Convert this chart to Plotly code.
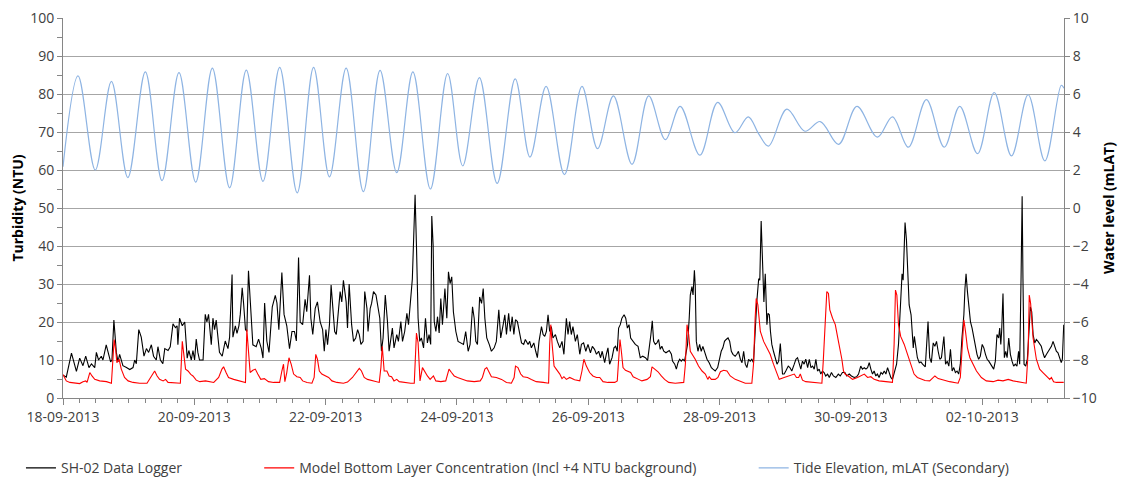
import pandas as pd
import plotly.graph_objects as go

START = pd.Timestamp("2013-09-18 00:00")

# ---- SH-02 Data Logger (hours since 18-09-2013 00:00, NTU) ----
logger_hours = [
    0, 1.2, 3.1, 4.9, 6.1, 7.3, 8.3, 9.5, 10.4, 11.6, 12.2, 13.0, 14.0, 14.6, 15.8, 17.4, 17.9, 18.6, 19.5, 20.1,
    20.7, 21.9, 23.2, 24.4, 25.6, 26.2, 26.8, 27.7, 28.6, 29.6, 30.5, 31.3, 32.3, 33.1, 34.1, 34.7, 35.6, 36.5, 37.2, 38.4,
    39.2, 40.2, 41.1, 41.7, 42.0, 42.6, 43.6, 44.5, 45.4, 46.0, 46.9, 47.5, 48.1, 48.7, 49.3, 49.9, 51.2, 52.0, 52.6, 53.2,
    54.2, 54.8, 55.4, 56.0, 57.2, 58.2, 59.3, 60.3, 60.9, 61.8, 62.1, 63.0, 63.6, 64.3, 64.8, 65.5, 66.0, 66.7, 67.2, 67.8,
    68.5, 69.4, 70.6, 71.5, 72.5, 73.1, 73.7, 74.5, 75.3, 75.8, 76.5, 77.6, 78.2, 78.9, 80.0, 80.8, 81.4, 81.8, 82.8, 83.7,
    84.6, 85.3, 86.1, 86.7, 87.6, 88.5, 89.1, 90.1, 90.6, 91.3, 92.2, 93.0, 94.0, 94.9, 95.5, 96.1, 96.7, 97.4, 98.0, 98.6,
    99.3, 99.9, 100.7, 101.3, 101.9, 102.5, 103.5, 104.0, 104.6, 105.5, 106.2, 107.0, 107.7, 108.3, 108.9, 109.7, 110.3, 111.1, 111.5, 112.3,
    112.8, 113.5, 114.4, 115.2, 115.8, 116.4, 117.0, 117.8, 118.6, 119.2, 119.8, 120.4, 121.0, 122.0, 122.6, 123.5, 124.1, 124.9, 125.7, 126.3,
    127.1, 127.7, 128.4, 128.7, 129.2, 129.8, 130.4, 131.0, 131.8, 132.5, 133.2, 133.8, 134.4, 134.8, 135.3, 135.7, 136.3, 136.9, 137.5, 138.1,
    138.7, 139.6, 140.3, 140.9, 141.5, 142.1, 142.7, 143.6, 144.4, 145.4, 146.4, 147.2, 148.1, 148.8, 149.7, 150.3, 150.9, 151.5, 152.3, 153.0,
    153.6, 154.2, 154.9, 155.8, 156.6, 157.6, 158.4, 159.3, 160.0, 160.9, 161.5, 162.1, 162.9, 163.5, 164.2, 164.8, 165.4, 166.1, 167.0, 167.6,
    168.4, 169.0, 170.0, 170.6, 171.2, 172.1, 172.8, 173.4, 174.0, 174.9, 175.5, 176.1, 176.7, 177.3, 177.9, 178.5, 179.1, 180.0, 180.7, 181.6,
    182.4, 183.1, 184.0, 184.6, 185.2, 185.8, 186.4, 187.3, 188.0, 188.9, 189.5, 190.3, 191.1, 191.9, 192.8, 193.5, 194.3, 195.0, 195.8, 196.5,
    197.1, 198.0, 198.6, 199.2, 199.8, 200.7, 201.4, 202.0, 202.6, 203.1, 203.7, 204.3, 205.1, 205.7, 206.3, 206.9, 207.5, 208.4, 209.2, 210.2,
    211.0, 211.9, 212.9, 213.7, 214.3, 214.9, 215.4, 215.9, 216.5, 217.1, 217.7, 218.3, 218.9, 219.6, 220.4, 221.0, 221.6, 222.4, 222.8, 223.6,
    224.2, 224.8, 225.4, 226.0, 226.6, 227.2, 227.7, 228.3, 228.9, 229.3, 229.9, 230.3, 230.8, 231.1, 231.5, 232.1, 232.7, 233.3, 233.9, 234.5,
    235.4, 236.2, 237.0, 237.6, 238.4, 239.3, 239.9, 240.6, 241.2, 241.8, 242.4, 243.1, 243.7, 244.3, 244.9, 245.7, 246.3, 246.9, 247.6, 248.2,
    248.8, 249.4, 250.0, 250.6, 251.2, 251.8, 252.4, 253.0, 253.6, 254.3, 254.7, 255.2, 255.7, 256.2, 256.7, 257.3, 257.7, 258.2, 258.6, 259.1,
    259.7, 260.3, 261.0, 261.6, 262.2, 263.0, 263.6, 264.2, 265.1, 265.7, 266.4, 267.3, 267.9, 268.5, 269.1, 269.7, 270.3, 270.9, 271.5, 272.2,
    272.8, 273.4, 274.0, 274.6, 275.2, 275.8, 276.4, 277.0, 277.6, 278.2, 278.8, 279.5, 280.1, 280.9, 281.6, 282.5, 283.4, 284.1, 284.9, 285.8,
    286.5, 287.4, 288.2, 289.2, 290.1, 290.8, 291.6, 292.2, 292.9, 293.5, 294.1, 294.7, 295.3, 295.9, 296.5, 297.1, 297.7, 298.3, 299.0, 299.6,
    300.2, 300.8, 301.4, 302.0, 302.6, 303.2, 303.8, 304.7, 305.4, 305.9, 306.4, 306.7, 307.1, 307.5, 307.8, 308.3, 308.8, 309.3, 310.0, 310.8,
    311.2, 311.7, 312.3, 313.0, 313.6, 314.2, 315.2, 316.2, 316.8, 317.4, 318.1, 318.7, 319.3, 319.9, 320.5, 321.1, 322.0, 322.6, 323.2, 323.8,
    324.4, 325.0, 325.6, 326.2, 326.8, 327.4, 328.0, 328.6, 329.3, 329.7, 330.1, 330.6, 331.1, 331.7, 332.3, 332.9, 333.5, 334.1, 334.7, 335.3,
    336.0, 336.6, 337.2, 337.8, 338.4, 339.0, 339.6, 340.2, 340.8, 341.4, 342.0, 342.4, 342.8, 343.1, 343.6, 344.1, 344.6, 345.1, 345.7, 346.3,
    346.9, 347.5, 348.1, 348.7, 349.3, 349.7, 350.2, 350.6, 350.9, 351.3, 351.9, 352.5, 353.1, 353.6, 354.1, 354.6, 355.2, 355.8, 356.4, 357.0,
    357.6, 358.2, 358.8, 359.5, 360.1, 360.7, 361.3, 361.9, 362.5, 363.1, 363.7, 364.3, 364.9, 365.3, 365.8,
]
logger_ntu = [
    6, 5.5, 11.8, 7, 10.5, 8.5, 11, 8, 9, 8, 12, 10, 11, 10, 14, 9.5, 10, 20.5, 12, 9.5,
    11.5, 8.5, 8, 7.5, 8, 10, 9, 18, 16, 11, 13, 12, 14, 11, 10, 13.5, 10, 9, 13, 12.5,
    13.5, 19.5, 18.5, 19, 14, 21, 19, 20, 10.5, 12.5, 10, 12.5, 10, 15.5, 12, 10, 10, 22, 20, 22,
    14, 21, 18, 20.5, 12, 11, 15, 13, 16, 32.5, 16, 19, 17, 19, 22, 29, 25, 18, 17.5, 33.5,
    25, 14, 13.5, 15.5, 13, 10.5, 25, 15, 12, 17, 24, 27, 25, 18, 33, 22, 20, 19, 13, 17.5,
    17.5, 15, 37, 20, 19.3, 26, 22.7, 32.3, 21, 16.7, 23.6, 25.3, 20, 18, 12.3, 18, 14, 19.3, 29.7, 24.5,
    17.5, 16.7, 23.6, 28, 25.3, 31, 25.3, 18.4, 30, 19.3, 14.9, 15.8, 18, 16.7, 14.1, 14.9, 28, 23.6, 17.5, 23.6,
    24.9, 28, 27.1, 24, 21, 12.3, 15.8, 27.1, 20.1, 12.3, 15.8, 18.4, 13.2, 16.7, 14.9, 20.1, 14.9, 17.5, 22.3, 19.3,
    26.2, 31.4, 47, 53.5, 40.1, 21, 14.9, 15.8, 13.2, 21, 14.5, 16.7, 14.1, 47.9, 40.1, 20.1, 17.5, 21.4, 17.1, 26.2,
    19.3, 28.8, 21, 33.2, 30.1, 31.9, 22.7, 17.5, 14.9, 14.5, 14.1, 17.5, 12.3, 14.1, 24, 21, 14.9, 14.1, 26.6, 24.9,
    28.8, 21, 15.8, 14.1, 12.3, 13.2, 14.9, 23.2, 15.8, 19.3, 21.9, 16.7, 22.3, 17.5, 21.4, 16.7, 20.6, 20.1, 16.7, 14.5,
    14.1, 15.4, 14.1, 14.9, 13.2, 14.5, 12.3, 10.6, 14.9, 18.8, 16.7, 16.2, 17.5, 21.9, 17.5, 18.8, 15.8, 16.7, 14.9, 13.2,
    14.9, 11.5, 21, 16.7, 20.1, 16.7, 18.8, 14.9, 16.7, 11.5, 14.1, 14.5, 12.3, 14.1, 11.9, 13.6, 12.8, 11.5, 12.3, 10.6,
    12.3, 9.3, 11.5, 13.2, 8.9, 10.6, 13.2, 13.6, 12.3, 18.4, 19.3, 21, 21.9, 21, 18.4, 19.3, 15.8, 14.9, 14.1, 13.6,
    10.6, 11, 10.6, 9.9, 12.8, 16.7, 20.3, 14.9, 14.1, 14.5, 15.4, 12.8, 13.6, 12.3, 11.9, 12.3, 12.5, 11.5, 9.7, 8.9,
    7.6, 9.3, 10.2, 9.7, 10.2, 9.7, 12.3, 14.1, 21, 27.1, 29.3, 27.1, 33.6, 29.7, 14.9, 12.3, 14.1, 12.3, 13.6, 12.3,
    10.2, 9.3, 8, 7.6, 7.1, 8, 9.7, 12.3, 13.2, 14.9, 15.4, 15.8, 14.9, 12.3, 11.5, 11, 11.5, 12.3, 10.2, 9.3,
    12.3, 8.9, 8, 10.2, 9.7, 10.2, 9.3, 19.3, 25.3, 31.4, 31, 46.6, 37.5, 25.3, 32.7, 19.3, 22.3, 21.9, 17.5, 14.1,
    12.3, 10.6, 8.9, 9.7, 14.3, 6.3, 6.3, 7.1, 8.4, 8, 7.1, 8.9, 10.2, 10.6, 8.9, 7.6, 9.7, 8.9, 10.2, 8,
    10.2, 8, 8.4, 7.6, 10.2, 7.1, 7.6, 6.3, 7.1, 6.7, 5.8, 6.3, 5.4, 6.7, 5.8, 5.4, 6.3, 5.8, 6.7, 6.7,
    5.8, 6.3, 5.8, 5.4, 5.6, 6.3, 8.4, 7.6, 8, 7.6, 8, 9.3, 7.6, 6.3, 7.1, 5.8, 6.3, 5.4, 6.7, 6.3,
    7.1, 6.3, 8, 6.3, 5.4, 4.9, 6.3, 8.9, 14.1, 22.7, 30.6, 32.7, 31, 38.4, 46.2, 41.8, 34, 24.5, 21.9, 13.2,
    16.2, 14.1, 10.6, 9.3, 9.5, 8.9, 8.2, 20.1, 10.6, 9.3, 14.5, 13.6, 14.9, 12.3, 10.2, 10.6, 16.2, 8.9, 9.7, 8.4,
    12.8, 7.1, 8, 6.7, 7.1, 6.3, 8.9, 15.8, 21.9, 28.8, 32.7, 28, 24.9, 20.1, 18.4, 15.8, 13.2, 11.5, 10.2, 11,
    14.1, 13.2, 11.5, 10.2, 9.7, 8.9, 8, 7.6, 9.7, 16.7, 15.8, 18.4, 14.1, 17.5, 27.5, 10.6, 12.3, 10.6, 15.8, 11.5,
    9.7, 8.4, 8.9, 8.4, 12.3, 8.9, 31.4, 53.1, 31.4, 8.9, 8.4, 10.2, 17.5, 24, 22.7, 16.7, 14.5, 15.4, 14.9, 14.1,
    13.6, 11.9, 10.6, 11.5, 12.3, 12.8, 13.6, 14.9, 13.6, 12.3, 11.9, 10.2, 9.3, 10.2, 19.3,
]

# ---- Model Bottom Layer Concentration (hours, NTU) ----
model_hours = [
    0, 1.2, 2.5, 6.1, 7.3, 8.3, 8.8, 9.8, 10.6, 11.6, 13.4, 15.9, 17.7, 18.3, 18.7, 19.3, 19.7, 20.5, 21.3, 22.5,
    23.8, 25.6, 28.0, 30.7, 33.5, 34.4, 35.3, 36.6, 37.5, 38.4, 41.4, 42.9, 43.6, 44.2, 44.8, 45.7, 46.7, 47.5, 48.7, 50.0,
    52.1, 55.1, 56.9, 58.1, 58.7, 59.6, 60.5, 62.4, 64.2, 66.0, 66.7, 67.2, 67.8, 68.4, 69.4, 70.3, 71.2, 72.3, 73.6, 75.1,
    77.0, 79.2, 80.0, 80.6, 81.1, 81.8, 82.6, 83.4, 84.3, 85.5, 86.7, 87.6, 89.2, 91.0, 91.8, 92.4, 93.0, 93.7, 94.6, 95.8,
    97.1, 98.3, 100.1, 102.5, 104.0, 105.8, 107.0, 108.3, 109.1, 110.1, 111.3, 112.5, 114.4, 115.6, 116.2, 116.7, 117.4, 118.4, 119.2, 120.1,
    121.0, 122.0, 122.9, 124.7, 127.1, 128.4, 128.7, 129.2, 129.8, 130.5, 131.4, 132.3, 133.2, 134.2, 135.4, 136.3, 138.1, 139.9, 141.1, 142.0,
    143.0, 144.2, 145.4, 146.6, 147.8, 150.3, 152.5, 153.3, 154.2, 154.9, 155.8, 156.6, 158.4, 160.3, 162.1, 163.9, 164.9, 165.4, 166.3, 167.3,
    168.2, 169.8, 171.2, 173.0, 175.5, 177.5, 177.9, 178.3, 178.8, 179.5, 180.3, 181.6, 182.4, 183.1, 184.0, 185.2, 187.0, 188.9, 189.7, 190.4,
    191.3, 192.5, 193.7, 195.0, 196.2, 197.4, 199.2, 201.7, 202.6, 203.1, 203.6, 204.1, 204.7, 205.6, 206.5, 207.5, 208.4, 209.2, 210.4, 211.6,
    213.5, 214.7, 215.3, 216.3, 217.5, 218.7, 219.9, 221.4, 223.8, 226.9, 227.5, 228.1, 228.7, 229.3, 230.1, 231.1, 232.3, 233.6, 234.8, 235.7,
    236.2, 237.0, 238.4, 239.4, 240.3, 241.5, 242.7, 243.9, 245.7, 247.6, 249.4, 251.8, 252.4, 253.0, 253.4, 254.0, 254.9, 256.1, 257.3, 258.5,
    259.7, 261.0, 261.8, 263.6, 265.5, 267.3, 268.1, 268.9, 269.5, 270.3, 271.5, 274.0, 277.4, 277.9, 278.6, 279.2, 279.8, 280.3, 281.3, 282.3,
    283.1, 284.0, 284.7, 285.3, 285.9, 287.4, 288.6, 290.4, 291.6, 292.9, 294.1, 295.3, 296.5, 298.3, 300.8, 303.2, 303.8, 304.3, 304.8, 305.4,
    306.2, 307.5, 308.7, 309.9, 311.1, 312.3, 314.2, 315.1, 316.8, 318.1, 318.7, 319.9, 321.7, 324.1, 327.2, 328.0, 328.6, 329.3, 329.9, 330.6,
    331.5, 332.7, 333.9, 335.7, 337.5, 340.0, 341.8, 343.6, 345.5, 347.3, 349.7, 352.1, 352.8, 353.2, 353.7, 354.6, 355.8, 357.0, 358.2, 359.5,
    360.7, 361.3, 362.1, 363.1, 365.8,
]
model_ntu = [
    6.2, 4.5, 4.1, 3.8, 4.3, 4.5, 4.1, 6.7, 5.8, 4.9, 4.5, 4.3, 3.9, 10.2, 15.4, 12.3, 9.3, 10.2, 7.6, 5.4,
    4.5, 4.1, 3.9, 3.9, 7.1, 5.8, 4.9, 4.5, 4.9, 4.1, 3.9, 3.9, 14.9, 10.6, 7.6, 7.1, 6.2, 5.8, 4.7, 4.3,
    4.5, 4.1, 5.4, 7.6, 8.2, 6.7, 5.4, 4.9, 4.5, 4.1, 4.1, 18, 12.3, 6.7, 7.3, 7.6, 6.3, 4.9, 5.1, 4.3,
    4.1, 4.1, 7.1, 8.9, 4.3, 6.7, 10.6, 8.9, 6.3, 5.6, 5.4, 4.5, 4.1, 3.9, 5.4, 11.5, 10.2, 7.1, 6.3, 5.8,
    5.4, 4.5, 4.1, 3.9, 4.2, 5.4, 6.7, 7.8, 7.1, 5.4, 4.9, 4.7, 4.3, 4.1, 8, 13.6, 7.1, 7.1, 5.8, 5.6,
    4.5, 4.9, 4.3, 4.1, 3.9, 3.9, 8.9, 17.1, 14.5, 4.5, 8, 6.7, 5.8, 4.9, 5.8, 4.5, 4.3, 4.5, 7.6, 6.7,
    5.8, 5.4, 5.1, 4.8, 4.5, 4.3, 4.5, 5.4, 7.6, 8, 6.7, 5.6, 5.4, 4.9, 4.1, 3.9, 5.4, 8.4, 8, 6.3,
    5.6, 5.4, 4.9, 4.3, 4.1, 3.9, 14.1, 19.3, 14.1, 8.4, 7.6, 6.3, 5.1, 5.6, 4.9, 5.4, 4.8, 4.5, 7.1, 10.2,
    8.4, 6.7, 5.8, 5.4, 5.4, 4.3, 4.1, 4.1, 4.5, 10.6, 15.4, 12.3, 8, 7.3, 7.1, 6.7, 5.6, 5.4, 4.9, 4.5,
    4.9, 5.6, 8.2, 7.6, 6.9, 5.8, 4.9, 4.1, 3.9, 4.1, 8.9, 19.3, 16.7, 12.3, 11.5, 10.2, 8.4, 7.1, 6.3, 4.9,
    5.6, 4.9, 4.9, 5.4, 6.9, 7.3, 7.1, 5.8, 4.9, 4.3, 3.9, 3.9, 8.9, 21, 26.2, 24.5, 17.5, 14.9, 13.2, 11.5,
    8.9, 6.3, 4.9, 5.4, 5.8, 6.3, 5.4, 5.4, 6.3, 4.7, 4.3, 4.1, 3.9, 9.7, 21, 28, 27.5, 23.2, 21, 19.3,
    16.2, 13.2, 10.2, 7.1, 6.3, 5.6, 4.9, 5.4, 5.8, 6.3, 5.4, 5.6, 4.9, 4.5, 4.3, 4.1, 14.1, 28.4, 27.1, 19.3,
    16.2, 14.1, 11.5, 8.9, 6.3, 5.4, 4.8, 4.6, 4.5, 5.4, 5.8, 5.1, 4.7, 4.3, 3.9, 5.4, 12.3, 20.6, 17.5, 13.2,
    10.6, 8.9, 7.1, 5.4, 4.5, 4.3, 4.7, 4.5, 4.9, 4.5, 4.1, 3.9, 12.3, 27.1, 24.9, 15.8, 10.2, 7.6, 6.7, 5.8,
    4.9, 5.4, 4.3, 4.1, 4.1,
]

# ---- Tide Elevation, mLAT (hours, m) - high / low waters ----
tide_hours = [
    0, 5.5, 11.8, 17.7, 23.7, 30.1, 36.2, 42.4, 48.5, 54.6, 60.9, 67.0, 73.1, 79.2, 85.6, 91.6, 97.4, 103.5, 109.8, 115.9,
    122.0, 127.9, 134.3, 140.6, 146.1, 152.2, 158.7, 165.3, 170.7, 176.6, 183.3, 189.7, 195.4, 201.2, 208.0, 214.1, 220.2, 225.6, 232.8, 239.3,
    245.6, 250.5, 254.3, 257.9, 264.6, 271.2, 276.8, 283.5, 290.2, 297.7, 303.2, 309.0, 315.6, 322.1, 327.8, 334.3, 340.4, 346.7, 352.8, 358.9,
    364.9, 365.9,
]
tide_level = [
    2.17, 6.95, 2.0, 6.66, 1.6, 7.16, 1.44, 7.12, 1.36, 7.36, 1.06, 7.26, 1.4, 7.4, 0.8, 7.4, 1.64, 7.36, 0.86, 7.24,
    1.86, 7.16, 1.0, 7.08, 2.22, 6.86, 1.3, 6.8, 2.68, 6.4, 1.76, 6.4, 3.12, 5.9, 2.3, 5.9, 3.6, 5.35, 2.78, 5.56,
    3.96, 4.8, 3.9, 3.26, 5.2, 4.04, 4.55, 3.35, 5.35, 3.73, 4.8, 3.2, 5.7, 3.2, 5.35, 2.86, 6.08, 2.74, 5.96, 2.48,
    6.46, 6.3,
]

# ---- Axis ticks ----
x_end_hours = 365.9
date_tick_step_days = 2

FONT = "Open Sans"


def to_time(hours):
    return START + pd.to_timedelta(hours, unit="h")


fig = go.Figure()
fig.add_trace(go.Scatter(
    x=to_time(logger_hours), y=logger_ntu, mode="lines", name="SH-02 Data Logger",
    line=dict(color="#000000", width=1.1), legend="legend",
))
fig.add_trace(go.Scatter(
    x=to_time(model_hours), y=model_ntu, mode="lines",
    name="Model Bottom Layer Concentration (Incl +4 NTU background)",
    line=dict(color="#ff0000", width=1.1), legend="legend2",
))
fig.add_trace(go.Scatter(
    x=to_time(tide_hours), y=tide_level, mode="lines", name="Tide Elevation, mLAT (Secondary)",
    line=dict(color="#8eb4e3", width=1.2, shape="spline", smoothing=1.0), yaxis="y2", legend="legend3",
))

legend_common = dict(orientation="h", yanchor="middle", y=-0.185, xanchor="left",
                     font=dict(family=FONT, size=14, color="#404040"), bgcolor="rgba(0,0,0,0)")

# The page body adds an 8 px margin, so the figure is sized and offset to place
# the plot area at about x 63-1064, y 18-398 of the 1132x486 window.
fig.update_layout(
    width=1124, height=478,
    margin=dict(l=55, r=68, t=10, b=88, autoexpand=False),
    paper_bgcolor="white", plot_bgcolor="white",
    font=dict(family=FONT, size=14, color="#404040"),
    showlegend=True,
    legend=dict(x=-0.042, **legend_common),
    legend2=dict(x=0.196, **legend_common),
    legend3=dict(x=0.690, **legend_common),
    xaxis=dict(
        type="date",
        range=[START, to_time(x_end_hours)],
        dtick=date_tick_step_days * 86400000,
        tick0=START,
        tickformat="%d-%m-%Y",
        ticks="outside", ticklen=6, tickcolor="#868686",
        showline=True, linecolor="#868686", linewidth=1,
        showgrid=False, zeroline=False, automargin=False,
        ticklabeloverflow="allow",
        tickfont=dict(family=FONT, size=14, color="#404040"),
        minor=dict(dtick=6 * 3600000, ticks="outside", ticklen=4, tickcolor="#868686", showgrid=False),
    ),
    yaxis=dict(
        range=[0, 100], dtick=10, tick0=0,
        title=dict(text="<b>Turbidity (NTU)</b>", font=dict(family=FONT, size=14, color="#000000"), standoff=4),
        ticks="outside", ticklen=5, tickcolor="#868686",
        showline=True, linecolor="#868686", linewidth=1,
        showgrid=True, gridcolor="#a6a6a6", gridwidth=1,
        zeroline=False, automargin=False,
        ticklabeloverflow="allow",
        tickfont=dict(family=FONT, size=14, color="#404040"),
        minor=dict(dtick=5, ticks="outside", ticklen=5, tickcolor="#868686", showgrid=False),
    ),
    yaxis2=dict(
        range=[-10, 10], dtick=2, tick0=-10,
        overlaying="y", side="right",
        title=dict(text="<b>Water level (mLAT)</b>", font=dict(family=FONT, size=14, color="#000000"), standoff=8),
        ticks="outside", ticklen=5, tickcolor="#868686",
        showline=True, linecolor="#868686", linewidth=1,
        showgrid=False, zeroline=False, automargin=False,
        ticklabeloverflow="allow",
        tickfont=dict(family=FONT, size=14, color="#404040"),
    ),
)

fig.write_html("out.html")
